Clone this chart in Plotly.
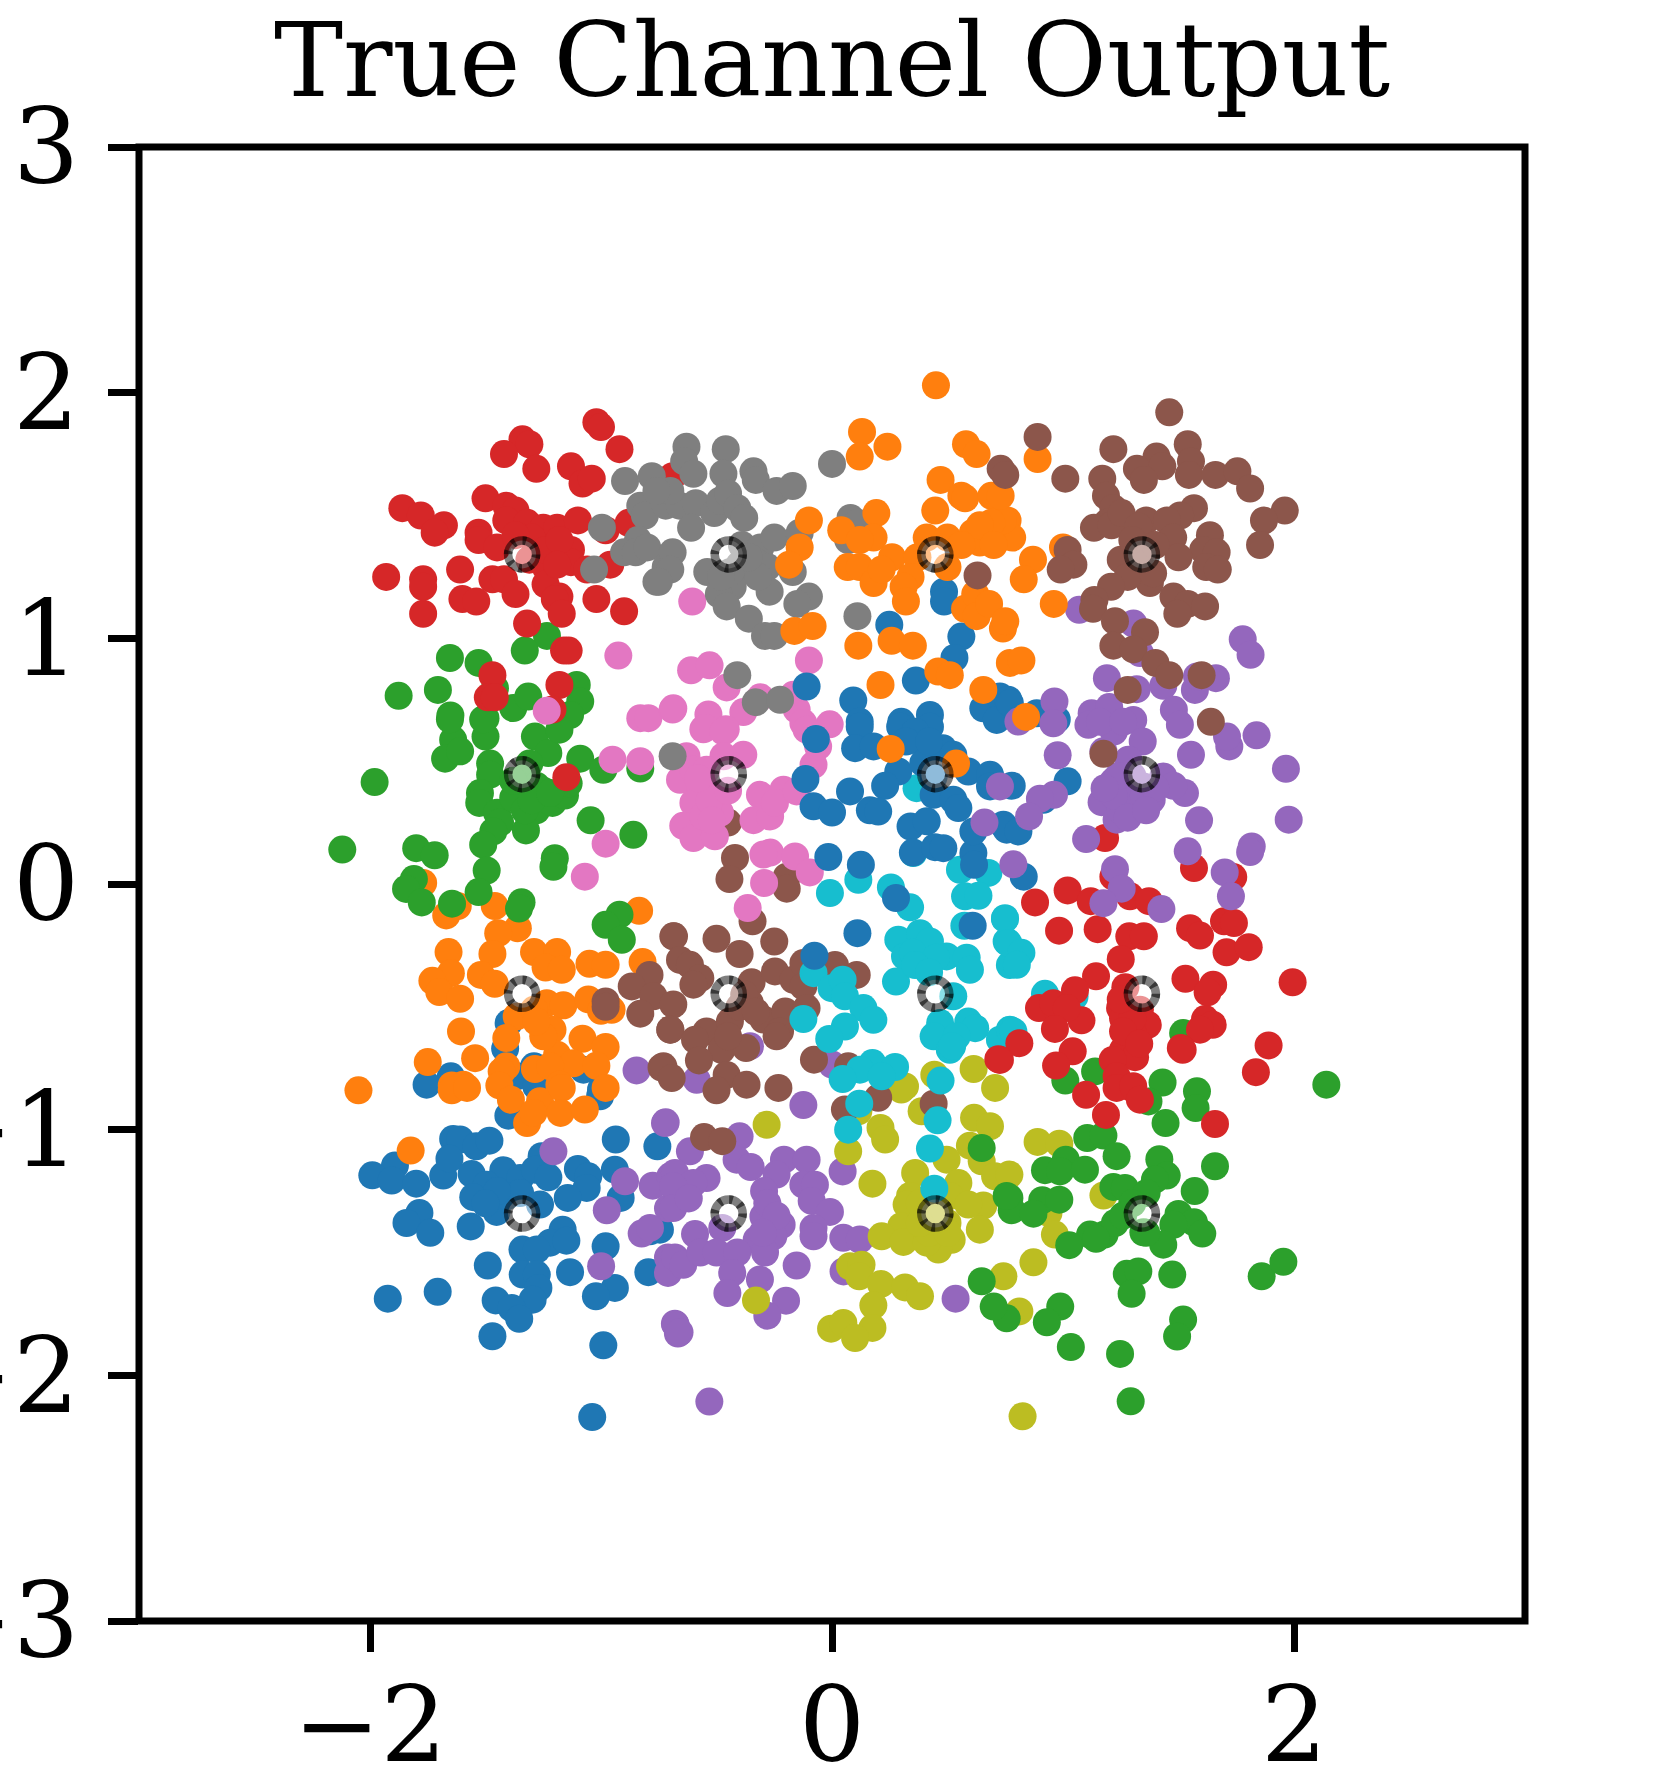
import plotly.graph_objects as go

BLUE, ORANGE, GREEN, RED, PURPLE = "#1f77b4", "#ff7f0e", "#2ca02c", "#d62728", "#9467bd"
BROWN, PINK, GRAY, OLIVE, CYAN = "#8c564b", "#e377c2", "#7f7f7f", "#bcbd22", "#17becf"

constellation = [-1.3416, -0.4472, 0.4472, 1.3416]
x_ticks = [-2, 0, 2]
y_ticks = [-3, -2, -1, 0, 1, 2, 3]

blue_bottom = [(-1.40,-.566),(-1.415,-.67),(-1.076,-.756),(-1.29,-.742),(-1.65,-.783),(-1.755,-.817),(-1.365,-.783),(-1.28,-.824),(-1.0,-.837),(-1.004,-.864),(-1.401,-.943),(-1.64,-1.038),(-1.61,-1.04),(-1.54,-1.068),(-1.483,-1.045),(-1.257,-1.108),(-.936,-1.04),(-.756,-1.068),(-1.892,-1.146),(-1.99,-1.186),(-1.906,-1.207),(-1.80,-1.22),(-1.683,-1.187),(-1.656,-1.118),(-1.56,-1.18),(-1.423,-1.165),(-1.35,-1.197),(-1.286,-1.163),(-1.228,-1.194),(-1.10,-1.16),(-1.055,-1.19),(-1.062,-1.237),(-.94,-1.163),(-1.144,-1.278),(-.915,-1.278),(-1.495,-1.224),(-1.553,-1.275),(-1.452,-1.335),(-1.408,-1.27),(-1.35,-1.258),(-1.264,-1.305),(-1.786,-1.339),(-1.842,-1.38),(-1.739,-1.42),(-1.564,-1.394),(-1.166,-1.407),(-1.22,-1.46),(-1.15,-1.452),(-1.34,-1.488),(-1.278,-1.488),(-.98,-1.475),(-.788,-1.414),(-1.49,-1.553),(-1.339,-1.59),(-1.278,-1.59),(-1.134,-1.58),(-.795,-1.58),(-.94,-1.644),(-1.022,-1.678),(-1.271,-1.644),(-1.296,-1.692),(-1.456,-1.695),(-1.387,-1.726),(-1.354,-1.77),(-1.923,-1.688),(-1.707,-1.66),(-1.47,-1.841),(-.99,-1.878),(-1.038,-2.17),(-.745,-1.407),(-1.45,-1.25),(-1.50,-1.30)]

purple_bottom = [(-.355,-.66),(0,-.735),(-.586,-.797),(-.846,-.759),(-1.206,-1.088),(-.723,-.973),(-.896,-1.21),(-.776,-1.228),(-.70,-1.19),(-.975,-1.328),(-.71,-1.32),(-.824,-1.423),(-.788,-1.40),(-.9995,-1.556),(-.71,-1.52),(-.71,-1.583),(-.68,-1.79),(-.667,-1.83),(-.124,-.90),(-.72,-.97),(-.40,-1.027),(-.615,-1.088),(-.413,-1.122),(-.352,-1.152),(-.208,-1.122),(-.11,-1.122),(.046,-1.17),(-.68,-1.176),(-.543,-1.197),(-.60,-1.217),(-.687,-1.23),(-.24,-1.183),(-.294,-1.25),(-.124,-1.224),(-.074,-1.224),(-.088,-1.29),(-.009,-1.335),(-.687,-1.319),(-.475,-1.40),(-.297,-1.353),(-.218,-1.387),(-.08,-1.40),(-.08,-1.434),(-.593,-1.425),(-.254,-1.434),(-.326,-1.448),(.049,-1.44),(.12,-1.447),(-.68,-1.52),(-.644,-1.55),(-.57,-1.50),(-.50,-1.50),(-.41,-1.50),(-.29,-1.50),(-.153,-1.553),(.05,-1.577),(-.432,-1.583),(-.312,-1.61),(-.453,-1.665),(-.199,-1.696),(-.28,-1.757),(-.677,-1.794),(-.66,-1.825),(-.531,-2.107),(.535,-1.688),(-.28,-1.30),(-.24,-1.35),(-.30,-1.42),(-.62,-1.28)]

olive_bottom = [(.443,-.776),(.613,-.753),(.706,-.83),(.316,-.824),(-.283,-.98),(.30,-.837),(.388,-.925),(.114,-.925),(.07,-1.088),(.21,-.993),(.23,-1.04),(.615,-.952),(.684,-.986),(.597,-1.065),(.648,-1.129),(.706,-1.19),(.175,-1.22),(.496,-1.122),(.36,-1.176),(.547,-1.217),(.338,-1.27),(.323,-1.305),(.453,-1.27),(.51,-1.27),(.655,-1.309),(.59,-1.305),(.64,-1.407),(.30,-1.393),(.215,-1.434),(.309,-1.457),(.518,-1.448),(.46,-1.488),(.41,-1.46),(.078,-1.556),(.128,-1.55),(.118,-1.597),(.212,-1.628),(.316,-1.642),(.381,-1.678),(.179,-1.715),(-.329,-1.695),(-.004,-1.81),(.049,-1.787),(.175,-1.807),(.10,-1.848),(.742,-1.597),(.89,-1.05),(.984,-1.057),(.768,-1.183),(1.175,-1.268),(.937,-1.339),(.965,-1.427),(.872,-1.54),(.811,-1.74),(.825,-2.167),(.42,-1.38),(.50,-1.38),(.38,-1.30),(.42,-1.42),(.50,-1.42),(.46,-1.33),(.38,-1.38)]

green_right = [(1.52,-.607),(1.139,-.763),(1.01,-.80),(1.431,-.808),(1.58,-.844),(2.14,-.817),(1.574,-.912),(1.37,-.885),(1.444,-.973),(1.105,-1.034),(1.175,-1.024),(1.232,-1.108),(.922,-1.165),(1.012,-1.122),(.987,-1.17),(1.095,-1.163),(1.417,-1.12),(1.449,-1.187),(1.398,-1.203),(1.218,-1.233),(1.268,-1.237),(1.362,-1.258),(1.658,-1.149),(1.57,-1.25),(.768,-1.278),(.778,-1.328),(.91,-1.287),(.984,-1.285),(.872,-1.342),(1.50,-1.343),(1.567,-1.377),(1.603,-1.423),(1.478,-1.387),(1.348,-1.418),(1.434,-1.468),(1.18,-1.427),(1.225,-1.38),(1.117,-1.427),(1.143,-1.444),(1.027,-1.47),(1.276,-1.587),(1.326,-1.577),(1.297,-1.668),(1.473,-1.59),(1.86,-1.597),(1.954,-1.538),(.988,-1.72),(.93,-1.784),(.756,-1.768),(1.52,-1.773),(1.494,-1.842),(1.034,-1.885),(1.247,-1.913),(1.293,-2.106),(.648,-1.075),(.648,-1.617),(.70,-1.72),(.756,-1.27),(1.30,-1.30),(1.26,-1.35),(1.36,-1.42)]

orange_left = [(-1.77,.004),(-1.67,-.128),(-1.62,-.09),(-1.46,-.09),(-1.36,-.18),(-1.445,-.20),(-.835,-.109),(-1.47,-.285),(-1.66,-.277),(-1.29,-.277),(-1.19,-.277),(-1.24,-.34),(-1.17,-.349),(-1.05,-.325),(-.98,-.329),(-.82,-.318),(-1.65,-.363),(-1.73,-.394),(-1.70,-.44),(-1.61,-.467),(-1.52,-.37),(-1.46,-.406),(-1.235,-.485),(-1.163,-.494),(-1.055,-.47),(-1.00,-.516),(-.954,-.512),(-1.365,-.539),(-1.29,-.512),(-1.21,-.593),(-1.41,-.627),(-1.606,-.60),(-1.08,-.63),(-.98,-.664),(-1.545,-.709),(-1.41,-.742),(-1.75,-.725),(-1.43,-.763),(-1.19,-.695),(-1.12,-.73),(-1.02,-.74),(-1.286,-.753),(-1.22,-.742),(-1.646,-.82),(-1.596,-.817),(-2.05,-.84),(-.98,-.83),(-1.18,-.817),(-1.646,-.84),(-1.58,-.83),(-1.44,-.82),(-1.39,-.878),(-1.264,-.884),(-1.17,-.83),(-1.32,-.973),(-1.293,-.932),(-1.175,-.932),(-1.07,-.918),(-1.824,-1.085),(-1.25,-.62),(-1.28,-.56)]

green_left = [(-1.234,1.01),(-1.33,.95),(-1.654,.92),(-1.53,.90),(-1.876,.766),(-1.706,.79),(-1.652,.686),(-1.459,.797),(-1.38,.716),(-1.315,.763),(-1.50,.675),(-1.105,.81),(-1.09,.743),(-1.134,.688),(-1.64,.587),(-1.675,.51),(-1.61,.54),(-1.50,.60),(-1.654,.67),(-1.51,.67),(-1.286,.60),(-1.228,.533),(-1.18,.628),(-1.48,.49),(-1.31,.49),(-1.48,.445),(-1.09,.51),(-.99,.465),(-.83,.47),(-1.524,.37),(-1.527,.33),(-1.35,.40),(-1.28,.40),(-1.45,.29),(-1.437,.25),(-1.28,.30),(-1.21,.33),(-1.156,.36),(-1.14,.41),(-1.325,.218),(-1.466,.214),(-1.51,.16),(-1.98,.415),(-2.12,.14),(-1.80,.146),(-1.72,.117),(-1.045,.259),(-.86,.20),(-1.20,.105),(-1.206,.07),(-1.495,.055),(-1.81,.02),(-1.844,-.02),(-1.776,-.075),(-1.645,-.08),(-1.53,-.033),(-1.344,-.074),(-1.355,-.10),(-.92,-.125),(-.98,-.166),(-.91,-.227),(-1.38,.35),(-1.25,.38),(-1.33,.30),(-1.30,.34),(-1.22,.37),(-1.38,.42)]

red_top = [(-1.02,1.88),(-1.00,1.86),(-.92,1.77),(-1.34,1.81),(-1.31,1.79),(-1.42,1.75),(-1.28,1.69),(-1.13,1.70),(-1.08,1.63),(-1.04,1.65),(-1.50,1.57),(-1.41,1.54),(-1.37,1.52),(-1.41,1.48),(-1.32,1.47),(-1.25,1.45),(-1.19,1.45),(-1.10,1.48),(-1.53,1.43),(-1.53,1.40),(-1.45,1.37),(-1.86,1.53),(-1.78,1.50),(-1.68,1.46),(-1.72,1.43),(-.98,1.44),(-.88,1.47),(-1.93,1.25),(-1.77,1.24),(-1.77,1.21),(-1.61,1.28),(-1.47,1.24),(-1.42,1.24),(-1.37,1.18),(-1.60,1.16),(-1.54,1.15),(-1.77,1.10),(-1.31,1.32),(-1.21,1.37),(-1.13,1.36),(-1.13,1.31),(-1.24,1.29),(-1.06,1.28),(-.96,1.30),(-1.24,1.22),(-1.18,1.17),(-1.20,1.16),(-1.17,1.10),(-1.02,1.16),(-.90,1.11),(-1.32,1.06),(-1.16,.95),(-1.14,.95),(-1.18,.81),(-1.47,.85),(-1.49,.76),(-1.46,.76),(-1.21,.71),(-.69,1.66),(-1.15,.435),(-1.30,1.41),(-1.24,1.36),(-1.18,1.40),(-1.37,1.42),(-1.19,1.30)]

brown_center = [(-.687,-.213),(-.79,-.37),(-.867,-.417),(-.773,-.457),(-.83,-.528),(-.70,-.593),(-.98,-.478),(-.98,-.50),(-.738,-.747),(-.42,.106),(-.444,.02),(-.45,.25),(-.196,.03),(-.196,-.019),(-.344,-.152),(-.684,-.213),(-.50,-.223),(-.25,-.234),(-.40,-.285),(-.658,-.309),(-.615,-.329),(-.57,-.383),(-.60,-.41),(-.348,-.40),(-.247,-.356),(-.167,-.39),(-.124,-.322),(.013,-.33),(.107,-.37),(-.124,-.417),(-.687,-.49),(-.355,-.485),(-.297,-.552),(-.203,-.519),(-.11,-.505),(-.225,-.60),(-.24,-.62),(-.70,-.593),(-.543,-.60),(-.442,-.56),(-.593,-.634),(-.478,-.675),(-.372,-.668),(-.576,-.718),(-.078,-.715),(.07,-.742),(-.73,-.742),(-.694,-.79),(-.456,-.777),(-.37,-.817),(-.50,-.84),(-.232,-.83),(-.554,-1.03),(-.475,-1.047),(.056,-.918),(.20,-.87),(.44,-.894),(-.40,-.50),(-.45,-.62),(-.38,-.45),(-.33,-.52)]

pink_center = [(-.925,.93),(-1.235,.705),(-.83,.675),(-.795,.675),(-.69,.71),(-.605,1.15),(-.61,.87),(-.53,.89),(-.10,.91),(-.456,.80),(-.31,.76),(-.687,.715),(-.535,.69),(-.384,.70),(-.167,.77),(-.153,.71),(-.01,.65),(-.124,.655),(-.46,.63),(-.557,.63),(-.95,.506),(-.83,.50),(-.98,.164),(-1.07,.03),(-.55,.635),(-.47,.62),(-.384,.526),(-.47,.52),(-.63,.52),(-.658,.424),(-.60,.465),(-.543,.465),(-.57,.397),(-.485,.37),(-.60,.33),(-.644,.237),(-.60,.187),(-.507,.194),(-.557,.275),(-.485,.29),(-.312,.363),(-.21,.384),(-.34,.26),(-.268,.275),(-.247,.33),(-.153,.377),(-.08,.485),(-.06,.56),(-.11,.628),(-.268,.128),(-.297,.12),(-.16,.112),(-.096,.047),(-.294,.004),(-.365,-.098),(-.53,.34),(-.58,.43),(-.52,.26),(-.45,.38)]

gray_top = [(-.996,1.45),(-1.03,1.28),(-.896,1.64),(-.78,1.66),(-.83,1.54),(-.81,1.50),(-.84,1.40),(-.90,1.35),(-.85,1.35),(-.80,1.37),(-.76,1.23),(-.72,1.29),(-.63,1.78),(-.64,1.72),(-.60,1.67),(-.46,1.77),(-.47,1.67),(-.34,1.68),(-.33,1.645),(-.24,1.60),(-.17,1.62),(-.72,1.54),(-.66,1.54),(-.59,1.55),(-.61,1.45),(-.51,1.51),(-.485,1.56),(-.45,1.59),(-.41,1.53),(-.38,1.49),(-.69,1.35),(-.70,1.28),(-.75,1.23),(-.39,1.38),(-.31,1.37),(-.25,1.41),(-.14,1.43),(-.33,1.31),(-.54,1.27),(-.37,1.28),(-.456,1.20),(-.43,1.21),(-.49,1.18),(-.28,1.29),(-.27,1.19),(-.17,1.27),(-.10,1.17),(-.15,1.14),(-.456,1.13),(-.36,1.08),(-.29,1.01),(-.25,1.01),(0,1.71),(.08,1.49),(.11,1.47),(.07,1.40),(.11,1.09),(-.41,.85),(-.33,.74),(-.225,.75),(-.69,.52),(-.40,1.30),(-.32,1.25),(-.44,1.27),(-.36,1.33),(-.48,1.25),(-.70,1.60),(-.76,1.60)]

cyan_center = [(.366,.39),(.352,.126),(.554,.058),(.677,.045),(.114,.017),(-.009,-.037),(.255,-.014),(.338,-.095),(.576,-.05),(.634,-.048),(.573,-.17),(.749,-.139),(.756,-.234),(.77,-.33),(.287,-.227),(.381,-.20),(.316,-.295),(.424,-.234),(.277,-.397),(.395,-.322),(.496,-.295),(.583,-.30),(.597,-.349),(.525,-.457),(-.08,-.363),(-.002,-.424),(.046,-.39),(.056,-.457),(.136,-.505),(.179,-.553),(-.124,-.55),(.056,-.58),(-.012,-.631),(.468,-.566),(.44,-.62),(.51,-.675),(.59,-.56),(.62,-.587),(.54,-.62),(.727,-.634),(.77,-.593),(.175,-.729),(.273,-.745),(.121,-.756),(.215,-.783),(.046,-.794),(.47,-.80),(.118,-.894),(.07,-1.0),(.457,-.962),(.424,-1.077),(.443,-1.24),(.749,-.142),(.763,-.24),(.82,-.28),(.80,-.329),(.922,-.447),(1.05,-.458),(.785,-.60),(.35,-.28),(.45,-.30),(.36,-.33),(.42,-.36),(.52,-.66)]

red_right = [(1.182,.187),(1.567,.065),(1.737,.028),(.879,-.075),(1.02,-.026),(1.12,-.07),(1.218,.03),(1.29,-.05),(1.372,-.07),(.983,-.19),(1.15,-.184),(1.55,-.18),(1.593,-.21),(1.697,-.152),(1.74,-.159),(1.287,-.213),(1.35,-.213),(1.708,-.278),(1.804,-.257),(1.25,-.306),(1.143,-.376),(1.53,-.386),(1.65,-.41),(1.626,-.441),(1.994,-.40),(1.052,-.433),(.896,-.505),(.958,-.485),(1.08,-.555),(1.016,-.505),(.965,-.59),(1.247,-.505),(1.333,-.512),(1.26,-.546),(1.326,-.587),(1.367,-.573),(1.615,-.55),(1.648,-.573),(1.593,-.593),(1.51,-.668),(1.518,-.675),(1.042,-.681),(.97,-.739),(.811,-.648),(.727,-.716),(1.89,-.657),(1.835,-.766),(1.26,-.675),(1.312,-.705),(1.215,-.716),(1.232,-.783),(1.297,-.83),(1.10,-.858),(1.186,-.94),(1.232,-.83),(1.304,-.823),(1.333,-.878),(1.658,-.977),(.72,-.713),(1.27,-.42),(1.30,-.60),(1.30,-.55),(1.26,-.60),(1.33,-.65),(1.25,-.47)]

blue_middle = [(.485,1.19),(.485,1.15),(.248,1.055),(.56,1.007),(.53,.92),(-.11,.804),(.363,.828),(.092,.747),(.12,.66),(.30,.66),(.424,.688),(.655,.715),(.727,.763),(.713,.668),(.763,.75),(.77,.736),(.973,.67),(.886,.695),(-.07,.59),(.12,.64),(.10,.553),(.18,.56),(.295,.64),(.424,.64),(.352,.587),(.48,.553),(.525,.526),(.59,.458),(.684,.445),(.684,.397),(.287,.458),(.23,.40),(.44,.438),(.395,.492),(-.115,.427),(.078,.377),(-.08,.316),(0,.291),(.164,.30),(.20,.295),(.34,.234),(.41,.255),(.44,.363),(.525,.343),(.547,.309),(.35,.128),(.446,.15),(.482,.146),(.612,.126),(.615,.078),(.612,.214),(.742,.241),(-.016,.11),(.125,.078),(.277,-.057),(.11,-.20),(.609,-.17),(-.076,-.292),(1.02,.418),(.778,.40),(.915,.343),(.756,.221),(.807,.214),(.83,.03),(.36,.62),(.32,.58),(.42,.58)]

purple_middle = [(1.07,1.116),(1.305,1.06),(1.333,.94),(1.778,.996),(1.812,.933),(1.19,.838),(1.319,.793),(1.434,.807),(1.571,.79),(1.58,.845),(1.662,.838),(.963,.743),(.958,.654),(.807,.661),(1.124,.695),(1.11,.648),(1.20,.72),(1.304,.668),(1.48,.709),(1.506,.648),(1.838,.605),(.977,.524),(1.175,.54),(1.345,.58),(1.283,.506),(1.434,.438),(1.554,.526),(1.72,.56),(1.965,.469),(1.977,.262),(1.71,.60),(1.528,.37),(1.478,.40),(1.218,.418),(1.167,.333),(1.232,.262),(1.297,.30),(1.384,.343),(1.348,.397),(1.589,.259),(1.10,.183),(1.817,.153),(1.81,.13),(1.54,.133),(1.70,.047),(1.727,-.05),(1.225,.06),(1.254,-.019),(1.175,-.078),(1.426,-.102),(.785,.08),(.727,.397),(.961,.363),(.90,.347),(.853,.275),(.66,.25),(1.28,.38),(1.30,.44),(1.25,.30),(1.30,.34),(1.35,.36),(1.40,.39),(1.22,.36),(1.28,.27),(1.24,.44),(1.36,.30),(1.18,.39),(1.22,.62),(1.16,.66),(1.26,.66)]

orange_top = [(.45,2.03),(.13,1.84),(.12,1.74),(.24,1.78),(.58,1.79),(.626,1.75),(.47,1.645),(.56,1.58),(.576,1.57),(.69,1.58),(.447,1.52),(.192,1.51),(-.10,1.48),(.04,1.44),(.18,1.41),(.12,1.40),(-.14,1.37),(-.186,1.30),(.068,1.29),(.12,1.29),(.26,1.33),(.18,1.225),(.215,1.28),(.41,1.41),(.50,1.41),(.37,1.33),(.34,1.25),(.31,1.21),(.32,1.15),(.50,1.29),(.61,1.43),(.64,1.39),(.73,1.41),(.76,1.48),(.576,1.12),(.62,1.18),(.626,1.09),(.68,1.14),(.74,1.04),(-.163,1.03),(-.084,1.05),(.114,.97),(.258,.99),(.35,.97),(.46,.865),(.51,.85),(.21,.81),(.655,.79),(.77,.90),(.89,1.73),(1.0,1.37),(.87,1.32),(.83,1.24),(.96,1.14),(.75,1.07),(.82,.91),(.78,1.41),(.74,1.48),(.73,1.58),(.84,.68),(.254,.55),(.537,.49),(.69,1.47),(.64,1.46),(.70,1.38),(.56,1.38)]

brown_top = [(1.46,1.92),(.89,1.82),(1.218,1.77),(1.01,1.65),(1.54,1.79),(1.554,1.72),(1.545,1.665),(1.405,1.74),(1.32,1.69),(1.43,1.70),(1.35,1.645),(1.66,1.665),(1.755,1.68),(1.81,1.61),(1.17,1.65),(1.186,1.58),(1.218,1.53),(1.19,1.47),(1.134,1.45),(1.21,1.46),(1.254,1.51),(1.567,1.53),(1.507,1.50),(1.36,1.48),(1.45,1.48),(1.326,1.455),(1.477,1.41),(1.96,1.52),(1.87,1.48),(1.853,1.38),(1.636,1.42),(1.607,1.36),(1.665,1.35),(1.62,1.29),(1.67,1.28),(1.50,1.33),(1.02,1.36),(1.045,1.30),(.99,1.28),(1.25,1.32),(1.33,1.31),(1.376,1.225),(1.28,1.25),(1.39,1.265),(1.208,1.21),(1.136,1.156),(1.13,1.12),(1.478,1.17),(1.54,1.14),(1.615,1.13),(1.495,1.10),(1.225,1.07),(1.218,.97),(1.355,1.025),(1.305,.955),(1.40,.90),(1.46,.85),(1.60,.85),(1.28,.79),(1.64,.66),(.73,1.69),(.75,1.665),(.63,1.256),(1.175,.53),(1.40,1.38),(1.30,1.40)]

# drawing order, bottom to top
clusters = [
    (blue_bottom, BLUE), (purple_bottom, PURPLE), (olive_bottom, OLIVE), (green_right, GREEN),
    (orange_left, ORANGE), (green_left, GREEN), (red_top, RED), (brown_center, BROWN),
    (pink_center, PINK), (gray_top, GRAY), (cyan_center, CYAN), (red_right, RED),
    (blue_middle, BLUE), (purple_middle, PURPLE), (orange_top, ORANGE), (brown_top, BROWN),
]

fig = go.Figure()
for pts, color in clusters:
    fig.add_trace(go.Scatter(
        x=[p[0] for p in pts], y=[p[1] for p in pts], mode="markers",
        marker=dict(size=28, color=color, line=dict(width=0)), showlegend=False,
    ))

cx = [a for b in constellation for a in constellation]
cy = [b for b in constellation for a in constellation]
fig.add_trace(go.Scatter(
    x=cx, y=cy, mode="markers", showlegend=False,
    marker=dict(size=28, color="rgba(255,255,255,0.5)",
                line=dict(width=8.5, color="rgba(0,0,0,0.5)")),
))

shapes = [dict(type="rect", xref="paper", yref="paper", x0=0, x1=1, y0=0, y1=1,
               line=dict(color="black", width=7), fillcolor="rgba(0,0,0,0)", layer="above")]
for a, b in zip(cx, cy):
    shapes.append(dict(type="circle", xref="x", yref="y", xsizemode="pixel", ysizemode="pixel",
                       xanchor=a, yanchor=b, x0=-14, x1=14, y0=-14, y1=14,
                       line=dict(color="rgba(0,0,0,0.55)", width=8.5, dash="3.6px,7.4px"),
                       fillcolor="rgba(0,0,0,0)", layer="above"))

axis_common = dict(showgrid=False, zeroline=False, showline=False, ticks="outside", automargin=False,
                   ticklen=30, tickwidth=7, tickcolor="black", range=[-3, 3],
                   tickfont=dict(family="DejaVu Serif", size=104, color="black"))

fig.update_layout(
    width=1664, height=1769, autosize=False,
    margin=dict(l=139, r=139, t=147, b=147.5, pad=0),
    paper_bgcolor="white", plot_bgcolor="white",
    title=dict(text="True Channel Output", x=0.5, xanchor="center", xref="paper",
               y=0.9665, yanchor="middle", yref="container", automargin=False,
               font=dict(family="DejaVu Serif", size=103.6, color="black")),
    xaxis=dict(tickmode="array", tickvals=x_ticks, ticktext=["−2", "0", "2"],
               ticklabelstandoff=-16, **axis_common),
    yaxis=dict(tickmode="array", tickvals=y_ticks,
               ticktext=["−3", "−2", "−1", "0", "1", "2", "3"],
               ticklabelstandoff=8, **axis_common),
    shapes=shapes,
)
fig.write_html("out.html", config={"displayModeBar": False},
               post_script="document.body.style.margin='0';")
